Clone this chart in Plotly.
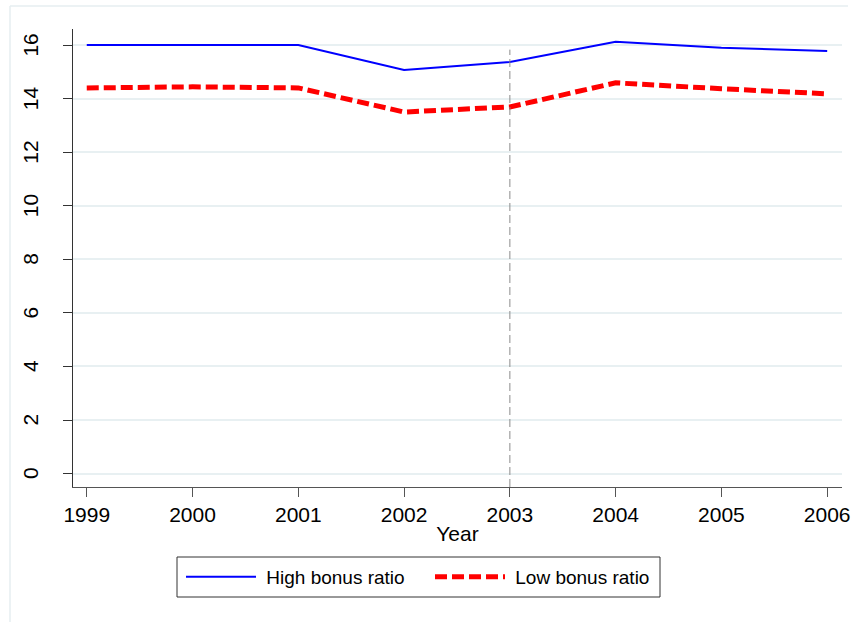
import plotly.graph_objects as go

years = [1999, 2000, 2001, 2002, 2003, 2004, 2005, 2006]
high_bonus = [16.0, 16.0, 16.0, 15.07, 15.37, 16.12, 15.9, 15.78]
low_bonus = [14.4, 14.44, 14.4, 13.5, 13.69, 14.59, 14.37, 14.18]
y_ticks = [0, 2, 4, 6, 8, 10, 12, 14, 16]
event_year = 2003

W, H = 857, 622
ml, mr, mt, mb = 73, 15, 29, 135
pw = W - ml - mr
ph = H - mt - mb


def px(x):
    return (x - ml) / pw


def py(y):
    return (H - mb - y) / ph


fig = go.Figure()
fig.add_trace(go.Scatter(x=years, y=high_bonus, mode="lines", name=" High bonus ratio",
                         line=dict(color="#0000ff", width=2)))
fig.add_trace(go.Scatter(x=years, y=low_bonus, mode="lines", name=" Low bonus ratio",
                         line=dict(color="#ff0000", width=5, dash="12px,5px")))

fig.add_shape(type="line", xref="x", yref="paper", x0=event_year, x1=event_year, y0=0, y1=0.955,
              line=dict(color="#8c8c8c", width=1, dash="8px,4px"))

# outer light frame (top and left edges)
fig.add_shape(type="line", xref="paper", yref="paper", x0=px(10), x1=px(848), y0=py(6), y1=py(6),
              line=dict(color="#e6eef0", width=1.5))
fig.add_shape(type="line", xref="paper", yref="paper", x0=px(10), x1=px(10), y0=py(6), y1=py(640),
              line=dict(color="#e6eef0", width=1.5))
# legend box
fig.add_shape(type="rect", xref="paper", yref="paper", x0=px(177), x1=px(660), y0=py(557), y1=py(597),
              line=dict(color="#333333", width=1), fillcolor="rgba(0,0,0,0)")

# rotated y tick labels
for v in y_ticks:
    fig.add_annotation(x=px(30.5), xref="paper", y=v, yref="y", text=str(v), showarrow=False,
                       textangle=-90, font=dict(size=21), xanchor="center", yanchor="middle")

font_family = "Liberation Sans, Arial, sans-serif"
fig.update_layout(
    width=W, height=H,
    margin=dict(l=ml, r=mr, t=mt, b=mb, autoexpand=False),
    paper_bgcolor="white", plot_bgcolor="white",
    font=dict(family=font_family, color="black", size=21),
    showlegend=True,
    legend=dict(orientation="h", x=px(181), y=py(558), xanchor="left", yanchor="top",
                borderwidth=0, bgcolor="rgba(0,0,0,0)",
                font=dict(size=19), itemwidth=70, tracegroupgap=0,
                entrywidth=164),
    xaxis=dict(range=[1998.87, 2006.14], tickvals=years, ticktext=[str(y) for y in years],
               showgrid=False, zeroline=False, showline=True, linecolor="#555555", linewidth=1.3,
               ticks="outside", ticklen=9, tickcolor="#555555", tickfont=dict(size=21),
               automargin=False,
               title=dict(text="Year", font=dict(size=21), standoff=0)),
    yaxis=dict(range=[-0.5, 16.6], tickvals=y_ticks, showgrid=True, gridcolor="#e8f0f2", gridwidth=1.5,
               zeroline=False, showline=True, linecolor="#333333", linewidth=1.3,
               ticks="outside", ticklen=9, tickcolor="#333333", showticklabels=False,
               automargin=False),
)

fig.write_html("out.html", config={"displayModeBar": False},
               post_script="document.body.style.margin='0px';document.body.style.overflow='hidden';")
